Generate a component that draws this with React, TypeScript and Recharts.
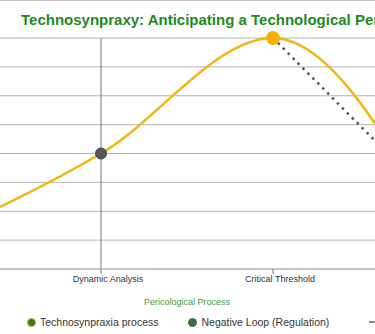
import React from "react"
import { LineChart, Line, XAxis, YAxis, CartesianGrid } from "recharts"

const stages = ["Initial Disruption", "Dynamic Analysis", "Critical Threshold", "Regulated Outcome"]
const processValues = [1, 4, 8, 1]
const loopValues = [null, null, 8, 2]
const processDotColors = ["#f5b000", "#555555", "#f5b000", "#f5b000"]
const yTicks = [0, 1, 2, 3, 4, 5, 6, 7, 8]

const legendItems = [
  { label: "Technosynpraxia process", icon: "circle", fill: "#3f7a22", stroke: "#c4b21a" },
  { label: "Negative Loop (Regulation)", icon: "circle", fill: "#3e6b3e", stroke: "#3e6b3e" },
  { label: "Regulated Trajectory", icon: "dash", fill: "#888888", stroke: "#888888" },
]

const data = stages.map((stage, i) => ({
  stage,
  process: processValues[i],
  loop: loopValues[i],
}))

const FONT = "'Liberation Sans', Arial, sans-serif"

// dot colour depends on which stage it sits on
const ProcessDot = (props: any) => {
  const { cx, cy, index } = props
  if (cx == null || cy == null) return null
  const fill = processDotColors[index]
  const dark = fill === "#555555"
  return (
    <circle
      key={`dot-${index}`}
      cx={cx}
      cy={cy}
      r={dark ? 5.5 : 6.5}
      fill={fill}
      stroke={dark ? "#444" : fill}
      strokeWidth={1}
    />
  )
}

export default function App() {
  return (
    <div
      style={{
        position: "fixed",
        left: 0,
        top: 0,
        width: 375,
        height: 334,
        overflow: "hidden",
        background: "#fff",
        borderTop: "1px solid #c4c4c4",
        boxSizing: "border-box",
        fontFamily: FONT,
      }}
    >
      <div
        style={{
          position: "absolute",
          left: 21,
          top: 11,
          lineHeight: "15px",
          fontSize: 15,
          fontWeight: "bold",
          color: "#1e8a1e",
          whiteSpace: "nowrap",
        }}
      >
        Technosynpraxy: Anticipating a Technological Peril
      </div>

      <div style={{ position: "absolute", left: -71, top: -1 }}>
        <LineChart width={516} height={310} data={data} margin={{ top: 38, right: 0, left: 0, bottom: 0 }}>
          <CartesianGrid vertical={false} stroke="#b4b4b4" />
          <CartesianGrid horizontal={false} stroke="#777" />
          <YAxis hide domain={[0, 8]} ticks={yTicks} />
          <XAxis
            dataKey="stage"
            height={41}
            axisLine={{ stroke: "#b4b4b4" }}
            tickLine={{ stroke: "#777" }}
            tickSize={5}
            tick={{ fontSize: 9, fill: "#333", fontFamily: FONT, dx: 7 }}
            label={{
              value: "Pericological Process",
              position: "insideBottom",
              offset: 5,
              fontSize: 9,
              fill: "#3f9a3f",
              fontFamily: FONT,
            }}
          />
          <Line
            type="linear"
            dataKey="loop"
            stroke="#555"
            strokeWidth={2.5}
            strokeDasharray="2.5 4.5"
            dot={false}
            activeDot={false}
            isAnimationActive={false}
          />
          <Line
            type="monotone"
            dataKey="process"
            stroke="#f2b514"
            strokeWidth={2.5}
            dot={<ProcessDot />}
            activeDot={false}
            isAnimationActive={false}
          />
        </LineChart>
      </div>

      <div
        style={{
          position: "absolute",
          left: 27,
          top: 314,
          display: "flex",
          alignItems: "center",
          whiteSpace: "nowrap",
          fontSize: 10.5,
          color: "#333",
        }}
      >
        {legendItems.map((item, i) => (
          <div
            key={item.label}
            style={{ display: "flex", alignItems: "center", marginRight: i === 0 ? 30 : 40 }}
          >
            {item.icon === "circle" ? (
              <span
                style={{
                  width: 7,
                  height: 7,
                  borderRadius: "50%",
                  background: item.fill,
                  border: `1px solid ${item.stroke}`,
                  marginRight: 4,
                }}
              />
            ) : (
              <span style={{ width: 8, height: 2, background: item.fill, marginRight: 4 }} />
            )}
            <span style={{ lineHeight: "14px" }}>{item.label}</span>
          </div>
        ))}
      </div>
    </div>
  )
}
